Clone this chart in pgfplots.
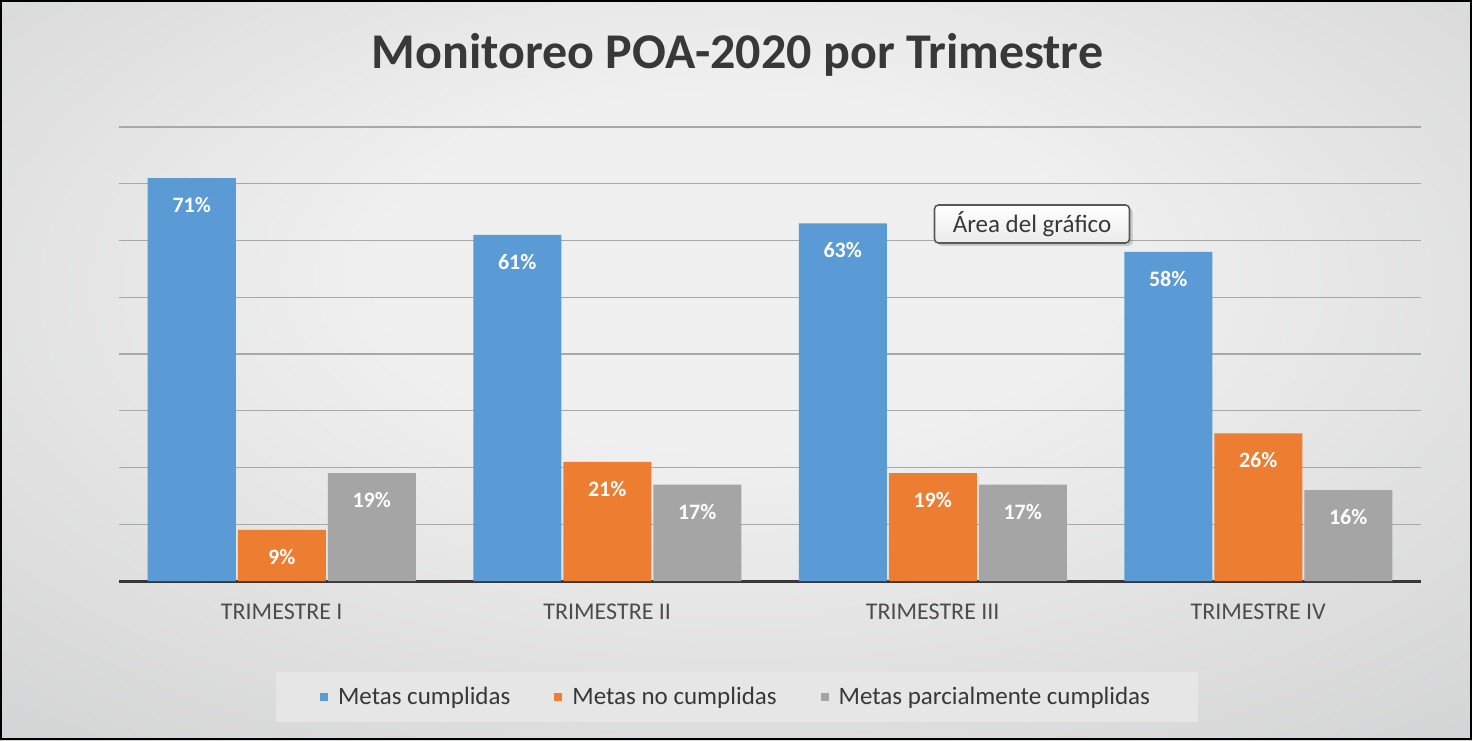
\documentclass[border=0pt]{standalone}
\usepackage{pgfplots}
\pgfplotsset{compat=1.18}
\usepackage{fontspec}
\setmainfont{Carlito}
\usetikzlibrary{shadows}
\definecolor{cblue}{HTML}{5B9BD5}
\definecolor{corange}{HTML}{ED7D31}
\definecolor{cgray}{HTML}{A5A5A5}
\definecolor{txt}{HTML}{383838}
\definecolor{bgin}{HTML}{F0F0F0}
\definecolor{bgout}{HTML}{AEB0B2}
\definecolor{legfill}{HTML}{E6E6E6}
\definecolor{gridc}{HTML}{A8A8A8}
\pgfdeclareradialshading{bgshade}{\pgfpoint{0bp}{8bp}}{color(0bp)=(bgin); color(12bp)=(bgin); color(72bp)=(bgout)}
\begin{document}
\begin{tikzpicture}
\useasboundingbox (0,0) rectangle (736pt,370pt);
\shade[shading=bgshade] (0,0) rectangle (736pt,370pt);
\draw[black, line width=1pt] (0.5pt,0.5pt) rectangle (735.5pt,369.5pt);
\node[anchor=base, font=\bfseries\fontsize{25}{29}\selectfont, text=txt] at (368.75pt,335.5pt) {Monitoreo POA-2020 por Trimestre};
\begin{axis}[
  at={(59.5pt,79.5pt)}, anchor=south west, scale only axis,
  width=651pt, height=227pt,
  xmin=-0.5, xmax=3.5, ymin=0, ymax=80,
  ybar=1pt, bar width=44pt,
  axis x line*=bottom, axis y line*=left,
  x axis line style={draw=txt, line width=1.5pt, -},
  y axis line style={draw=none},
  xtick={0,1,2,3},
  xticklabels={TRIMESTRE I, TRIMESTRE II, TRIMESTRE III, TRIMESTRE IV},
  ytick={0,10,...,80}, yticklabels={},
  major tick length=0pt,
  ymajorgrids, grid style={draw=gridc, line width=0.6pt},
  xticklabel style={font=\fontsize{12}{14}\selectfont, text=txt!90, yshift=-8pt},
  nodes near coords={\pgfmathprintnumber[fixed,precision=0]{\pgfplotspointmeta}\%},
  /pgf/number format/assume math mode=true,
  every node near coord/.append style={font=\bfseries\fontsize{11}{13}\selectfont, text=white, anchor=center, yshift=-13.5pt},
  legend columns=3,
  legend image code/.code={\fill[#1,draw=none] (0pt,-2pt) rectangle (4pt,2pt);},
  legend style={at={(0.4747,-0.2555)}, anchor=center, fill=legfill, draw=none,
    font=\fontsize{12.5}{14}\selectfont, text=txt, inner xsep=22pt, inner ysep=5.5pt,
    /tikz/every even column/.append style={column sep=20pt},
    /tikz/every odd column/.append style={column sep=3pt}},
]
\addplot[fill=cblue, draw=none] coordinates {(0,71) (1,61) (2,63) (3,58)};
\addplot[fill=corange, draw=none] coordinates {(0,9) (1,21) (2,19) (3,26)};
\addplot[fill=cgray, draw=none] coordinates {(0,19) (1,17) (2,17) (3,16)};
\legend{Metas cumplidas, Metas no cumplidas, Metas parcialmente cumplidas}
\end{axis}
\node[rounded corners=2pt, draw=black!65, line width=0.8pt, top color=white, bottom color=black!8,
  drop shadow={opacity=0.35, shadow xshift=1.5pt, shadow yshift=-1.5pt},
  minimum width=97.5pt, minimum height=19pt, inner sep=0pt, text=txt,
  font=\fontsize{12.5}{14}\selectfont] at (516pt,258pt) {Área del gráfico};
\end{tikzpicture}
\end{document}
